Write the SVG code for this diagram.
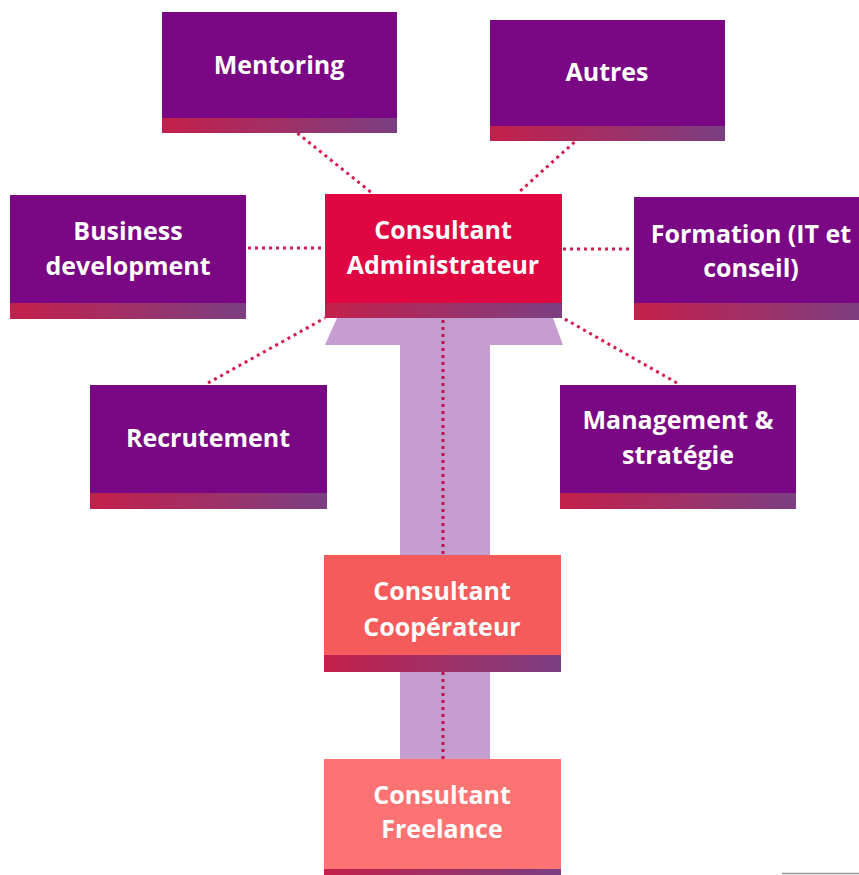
<svg xmlns="http://www.w3.org/2000/svg" width="859" height="875" viewBox="0 0 859 875">
<defs>
<linearGradient id="bar" x1="0" y1="0" x2="1" y2="0">
<stop offset="0" stop-color="#c4204b"/>
<stop offset="1" stop-color="#7b3f82"/>
</linearGradient>
<style>
.p{fill:#7a0783}
.b{fill:url(#bar)}
.t{font-family:"Open Sans","Noto Sans","Liberation Sans",sans-serif;font-weight:bold;font-size:25px;fill:#fff;text-anchor:middle}
.d{stroke:#d61a4c;stroke-width:3;stroke-dasharray:3 4;fill:none}
.dv{stroke:#c4124f;stroke-width:3;stroke-dasharray:3 4;fill:none}
</style>
</defs>
<rect width="859" height="875" fill="#fff"/>
<polygon points="337,318 553,318 563,345 490,345 490,870 400,870 400,345 325,345" fill="#c69dd1"/>
<g id="connectors">
<line class="d" x1="281" y1="120" x2="372" y2="193"/>
<line class="d" x1="590" y1="128" x2="518" y2="193"/>
<line class="d" x1="248" y1="248" x2="325" y2="248"/>
<line class="d" x1="563" y1="249" x2="633" y2="249"/>
<line class="d" x1="208" y1="383" x2="325" y2="318"/>
<line class="d" x1="677" y1="383" x2="563" y2="318"/>
<line class="dv" x1="443" y1="320" x2="443" y2="555"/>
<line class="dv" x1="443" y1="672" x2="443" y2="759"/>
</g>
<g id="mentoring">
<rect class="p" x="162" y="12" width="235" height="106"/>
<rect class="b" x="162" y="118" width="235" height="15"/>
<text class="t" x="279" y="74">Mentoring</text>
</g>
<g id="autres">
<rect class="p" x="490" y="20" width="235" height="106"/>
<rect class="b" x="490" y="126" width="235" height="15"/>
<text class="t" x="607" y="81">Autres</text>
</g>
<g id="business">
<rect class="p" x="10" y="195" width="236" height="108"/>
<rect class="b" x="10" y="303" width="236" height="16"/>
<text class="t" x="128" y="240">Business</text>
<text class="t" x="128" y="275">development</text>
</g>
<g id="administrateur">
<rect fill="#df0641" x="325" y="194" width="237" height="109"/>
<rect class="b" x="325" y="303" width="237" height="15"/>
<text class="t" x="443" y="239">Consultant</text>
<text class="t" x="443" y="274">Administrateur</text>
</g>
<g id="formation">
<rect class="p" x="634" y="197" width="235" height="106"/>
<rect class="b" x="634" y="303" width="235" height="17"/>
<text class="t" x="751" y="243">Formation (IT et</text>
<text class="t" x="751" y="277">conseil)</text>
</g>
<g id="recrutement">
<rect class="p" x="90" y="385" width="237" height="108"/>
<rect class="b" x="90" y="493" width="237" height="16"/>
<text class="t" x="208" y="447">Recrutement</text>
</g>
<g id="management">
<rect class="p" x="560" y="385" width="236" height="108"/>
<rect class="b" x="560" y="493" width="236" height="16"/>
<text class="t" x="678" y="429">Management &amp;</text>
<text class="t" x="678" y="464">stratégie</text>
</g>
<g id="cooperateur">
<rect fill="#f45b5a" x="324" y="555" width="237" height="100"/>
<rect class="b" x="324" y="655" width="237" height="17"/>
<text class="t" x="442" y="600">Consultant</text>
<text class="t" x="442" y="636">Coopérateur</text>
</g>
<g id="freelance">
<rect fill="#fd7373" x="324" y="759" width="237" height="110"/>
<rect class="b" x="324" y="869" width="237" height="6"/>
<text class="t" x="442" y="804">Consultant</text>
<text class="t" x="442" y="838">Freelance</text>
</g>
<line x1="782" y1="873.5" x2="859" y2="873.5" stroke="#999" stroke-width="1.5"/>
</svg>
